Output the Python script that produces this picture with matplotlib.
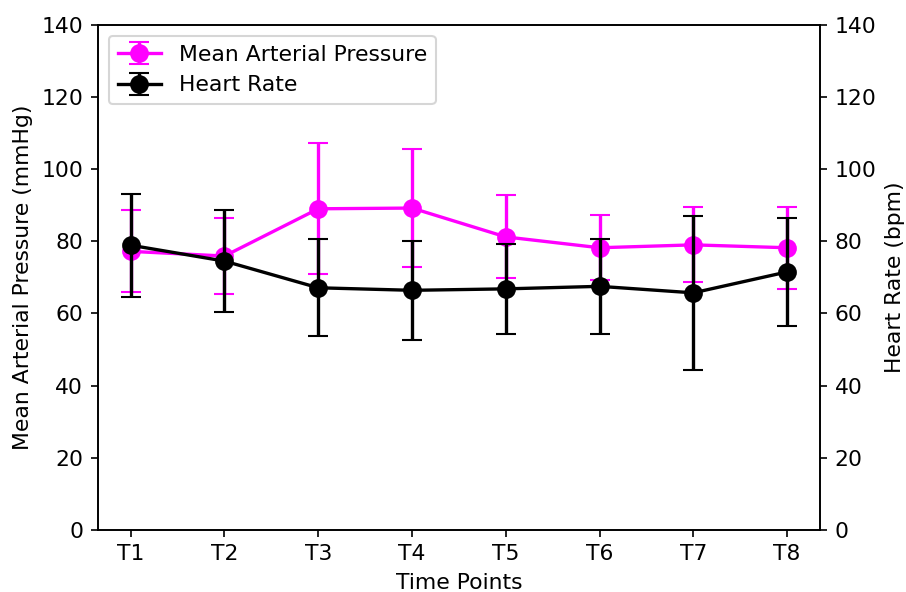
import numpy as np
import matplotlib.pyplot as plt

timePoints = ["T1", "T2", "T3", "T4", "T5", "T6", "T7", "T8"]
mapMean = [77.2, 75.9, 89.0, 89.2, 81.2, 78.2, 79.0, 78.2]
mapSd = [11.4, 10.5, 18.2, 16.4, 11.5, 9.0, 10.4, 11.4]
hrMean = [78.9, 74.5, 67.1, 66.4, 66.8, 67.5, 65.7, 71.5]
hrSd = [14.3, 14.1, 13.5, 13.7, 12.4, 13.1, 21.3, 15.0]

plt.rcParams["font.size"] = 10.5

x = np.arange(len(timePoints))

fig, ax1 = plt.subplots(figsize=(6.04, 3.947), dpi=150)
fig.subplots_adjust(left=0.108, right=0.905, top=0.958, bottom=0.105)

l1 = ax1.errorbar(x, mapMean, yerr=mapSd, fmt="-o", color="magenta",
                  capsize=5, markersize=8, linewidth=1.6, label="Mean Arterial Pressure")
ax1.set_ylim(0, 140)
ax1.set_ylabel("Mean Arterial Pressure (mmHg)")
ax1.set_xlabel("Time Points")
ax1.set_xticks(x)
ax1.set_xticklabels(timePoints)

ax2 = ax1.twinx()
l2 = ax2.errorbar(x, hrMean, yerr=hrSd, fmt="-o", color="black",
                  capsize=5, markersize=8, linewidth=1.6, label="Heart Rate")
ax2.set_ylim(0, 140)
ax2.set_ylabel("Heart Rate (bpm)")

ax1.legend([l1, l2], ["Mean Arterial Pressure", "Heart Rate"], loc="upper left")

plt.savefig("out.png")
